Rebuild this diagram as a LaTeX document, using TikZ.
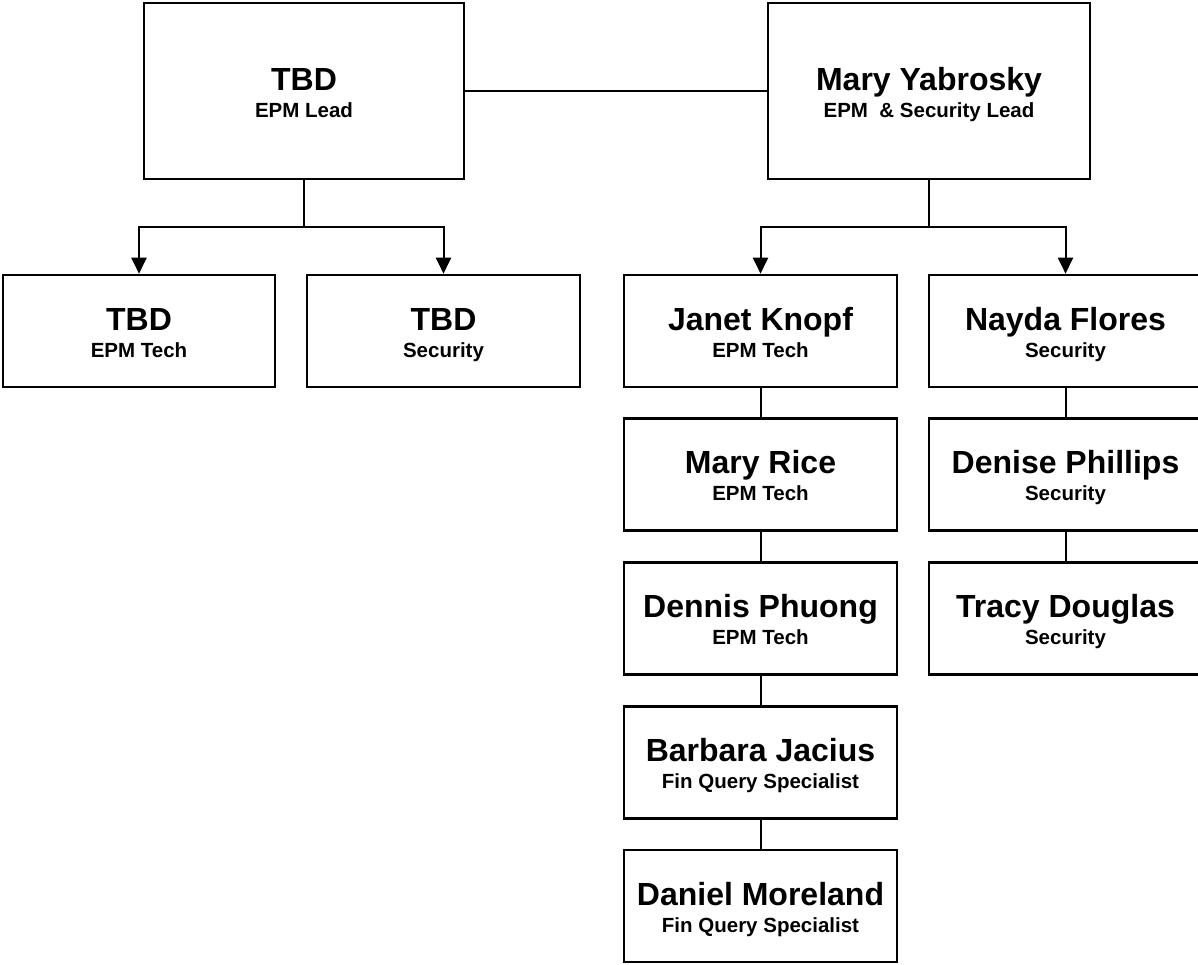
\documentclass[tikz,border=0pt]{standalone}
\usepackage{fontspec}
\setmainfont{Liberation Sans}
\usetikzlibrary{arrows.meta}

\tikzset{
  personbox/.style={draw=black, line width=2.6pt, fill=white, inner sep=0pt, rectangle},
  namefont/.style={font=\bfseries\fontsize{32}{32}\selectfont, inner sep=0pt},
  rolefont/.style={font=\bfseries\fontsize{20.5}{24}\selectfont, inner sep=0pt},
  link/.style={draw=black, line width=2pt},
  branch/.style={link, -{Triangle[length=16pt, width=15pt]}},
}

% \person{id}{x}{y}{width}{height}{name}{role}
\newcommand{\person}[7]{%
  \node[personbox, minimum width=#4pt, minimum height=#5pt] (#1) at (#2,#3) {};
  \node[namefont, anchor=base] (#1-name) at ([yshift=1pt]#1.center) {#6};
  \node[rolefont, anchor=base] (#1-role) at ([yshift=-26pt]#1.center) {#7};
}

\begin{document}
\begin{tikzpicture}[x=1pt, y=-1pt]
  \useasboundingbox (0,0) rectangle (1198,964);

  % leads
  \person{tbdlead}{304}{91}{320}{176}{TBD}{EPM Lead}
  \person{mary}{929}{91}{322}{176}{Mary Yabrosky}{EPM\ \ \& Security Lead}

  % left team
  \person{tbdtech}{139}{331}{272}{112}{TBD}{EPM Tech}
  \person{tbdsec}{443.5}{331}{273}{112}{TBD}{Security}

  % EPM tech column
  \person{janet}{760.5}{331}{273}{112}{Janet Knopf}{EPM Tech}
  \person{rice}{760.5}{474.75}{273}{112}{Mary Rice}{EPM Tech}
  \person{dennis}{760.5}{618.5}{273}{112}{Dennis Phuong}{EPM Tech}
  \person{barbara}{760.5}{762.25}{273}{112}{Barbara Jacius}{Fin Query Specialist}
  \person{daniel}{760.5}{906}{273}{112}{Daniel Moreland}{Fin Query Specialist}

  % security column
  \person{nayda}{1065.5}{331}{273}{112}{Nayda Flores}{Security}
  \person{denise}{1065.5}{474.75}{273}{112}{Denise Phillips}{Security}
  \person{tracy}{1065.5}{618.5}{273}{112}{Tracy Douglas}{Security}

  % peer link between leads
  \draw[link] (tbdlead.east) -- (mary.west);

  % branches from each lead
  \coordinate (lsplit) at (304,227);
  \coordinate (rsplit) at (929,227);
  \draw[link] (tbdlead.south) -- (lsplit);
  \draw[branch] (lsplit) -| (tbdtech.north);
  \draw[branch] (lsplit) -| (tbdsec.north);
  \draw[link] (mary.south) -- (rsplit);
  \draw[branch] (rsplit) -| (janet.north);
  \draw[branch] (rsplit) -| (nayda.north);

  % column chains
  \draw[link] (janet.south) -- (rice.north);
  \draw[link] (rice.south) -- (dennis.north);
  \draw[link] (dennis.south) -- (barbara.north);
  \draw[link] (barbara.south) -- (daniel.north);
  \draw[link] (nayda.south) -- (denise.north);
  \draw[link] (denise.south) -- (tracy.north);
\end{tikzpicture}
\end{document}
